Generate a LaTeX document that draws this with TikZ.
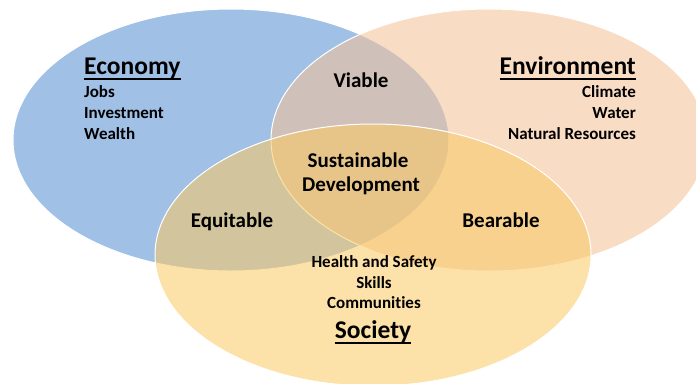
\documentclass[tikz,border=0pt]{standalone}
\usepackage{fontspec}
\setmainfont[Ligatures=NoCommon]{Carlito}
\definecolor{ecoblue}{RGB}{160,192,230}
\definecolor{envpeach}{RGB}{245,193,150}
\definecolor{socyellow}{RGB}{250,202,100}
\tikzset{
  circ/.style={draw=white, line width=1pt, fill opacity=0.56},
  title/.style={font=\bfseries\fontsize{25.5}{30}\selectfont, inner sep=0pt},
  item/.style={font=\bfseries\fontsize{17}{20}\selectfont, inner sep=0pt},
  zone/.style={font=\bfseries\fontsize{21}{25}\selectfont, inner sep=0pt},
  uline/.style={line width=1.5pt, black}
}
\begin{document}
\begin{tikzpicture}[x=1pt,y=-1pt]
\useasboundingbox (0,0) rectangle (696,383);
\fill[white] (0,0) rectangle (696,383);
% ellipses
\draw[draw=white, line width=1pt, fill=ecoblue] (231,140) ellipse [x radius=218, y radius=131];
\draw[circ, fill=envpeach] (489,140) ellipse [x radius=218, y radius=131];
\draw[circ, fill=socyellow] (373,255) ellipse [x radius=218, y radius=131];
% Economy
\node[title, anchor=base west] (eco) at (84,74) {Economy};
\draw[uline] ([yshift=-5pt]eco.base west) -- ([yshift=-5pt]eco.base east);
\node[item, anchor=base west] (jobs) at (84,97) {Jobs};
\node[item, anchor=base west] (inv) at (84,118) {Investment};
\node[item, anchor=base west] (wea) at (84,139) {Wealth};
% Environment
\node[title, anchor=base east] (env) at (636,74) {Environment};
\draw[uline] ([yshift=-5pt]env.base west) -- ([yshift=-5pt]env.base east);
\node[item, anchor=base east] (cli) at (636,97) {Climate};
\node[item, anchor=base east] (wat) at (636,118) {Water};
\node[item, anchor=base east] (nat) at (636,139) {Natural Resources};
% zones
\node[zone, anchor=base] (via) at (361,87) {Viable};
\node[zone, anchor=base] (sus) at (358,167) {Sustainable};
\node[zone, anchor=base] (dev) at (361,191) {Development};
\node[zone, anchor=base] (equ) at (232,227) {Equitable};
\node[zone, anchor=base] (bea) at (501,227) {Bearable};
% Society
\node[item, anchor=base] (hea) at (374,267) {Health and Safety};
\node[item, anchor=base] (ski) at (374,288) {Skills};
\node[item, anchor=base] (com) at (374,308) {Communities};
\node[title, anchor=base] (soc) at (373,338) {Society};
\draw[uline] ([yshift=-5pt]soc.base west) -- ([yshift=-5pt]soc.base east);
\end{tikzpicture}
\end{document}
